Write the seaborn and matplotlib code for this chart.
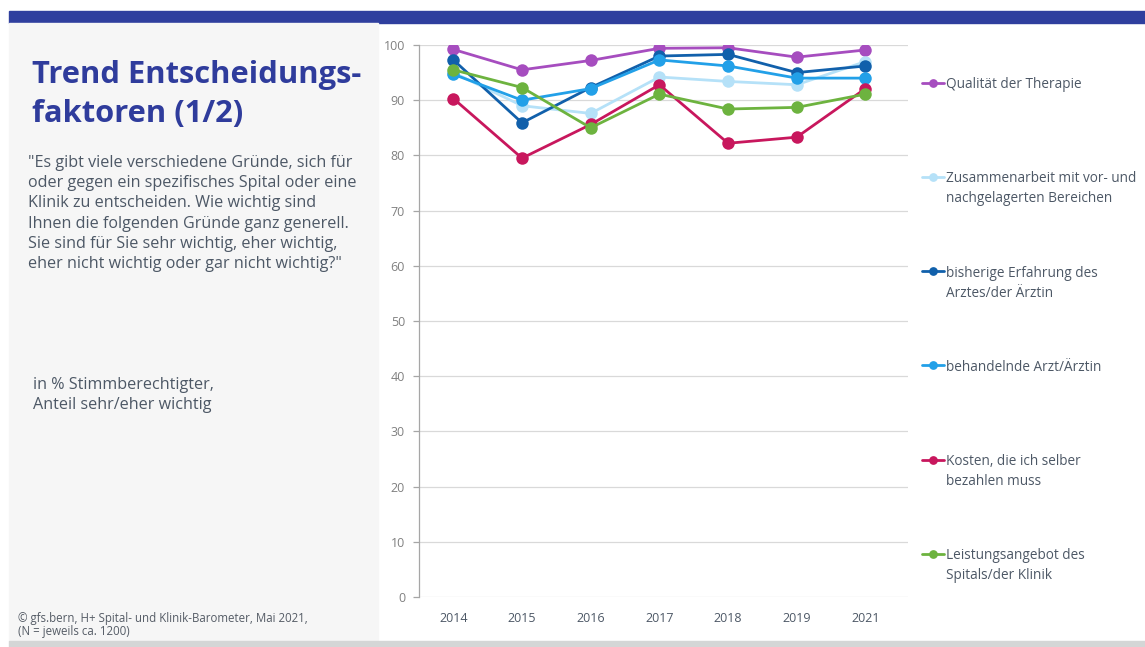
import pandas as pd
import numpy as np
import matplotlib.pyplot as plt
import seaborn as sns
from matplotlib.patches import Rectangle

# data
years = ["2014", "2015", "2016", "2017", "2018", "2019", "2021"]
qualitaet = [99.2, 95.5, 97.2, 99.4, 99.5, 97.8, 99.1]
zusammenarbeit = [95.0, 89.0, 87.6, 94.2, 93.4, 92.8, 97.0]
erfahrung = [97.3, 85.9, 92.3, 98.0, 98.3, 95.0, 96.2]
behandelnde = [94.7, 90.0, 92.1, 97.3, 96.2, 94.0, 94.0]
kosten = [90.3, 79.5, 85.6, 92.8, 82.2, 83.3, 92.1]
leistung = [95.5, 92.3, 85.0, 91.1, 88.4, 88.7, 91.1]

series_names = ["Qualität der Therapie",
                "Zusammenarbeit mit vor- und nachgelagerten Bereichen",
                "bisherige Erfahrung des Arztes/der Ärztin",
                "behandelnde Arzt/Ärztin",
                "Kosten, die ich selber bezahlen muss",
                "Leistungsangebot des Spitals/der Klinik"]
legend_labels = ["Qualität der Therapie\n",
                 "Zusammenarbeit mit vor- und\nnachgelagerten Bereichen",
                 "bisherige Erfahrung des\nArztes/der Ärztin",
                 "behandelnde Arzt/Ärztin\n",
                 "Kosten, die ich selber\nbezahlen muss",
                 "Leistungsangebot des\nSpitals/der Klinik"]
colors = ["#a64dbf", "#b5e1f8", "#1160ab", "#22a0e8", "#c8175d", "#6db33f"]

all_values = [qualitaet, zusammenarbeit, erfahrung, behandelnde, kosten, leistung]
rows = []
for name, vals in zip(series_names, all_values):
    for y, v in zip(years, vals):
        rows.append({"Jahr": y, "Wert": v, "Faktor": name})
df = pd.DataFrame(rows)

sns.set_style("white")
plt.rcParams["font.family"] = ["Open Sans", "DejaVu Sans"]

fig = plt.figure(figsize=(11.45, 6.47), dpi=100)
W, H = 1145, 647

# background decorations
fig.patches.append(Rectangle((9 / W, 1 - 23 / H), 1, 12 / H, transform=fig.transFigure,
                             color="#2f3f9e", zorder=0))
fig.patches.append(Rectangle((9 / W, 1 - 641 / H), 369 / W, 618 / H, transform=fig.transFigure,
                             color="#f6f6f6", zorder=0))
fig.patches.append(Rectangle((9 / W, 0), 1, 6 / H, transform=fig.transFigure,
                             color="#d4d6d6", zorder=0))

ax = fig.add_axes([419 / W, 1 - 597 / H, 489 / W, 552 / H])
ax.set_facecolor("none")
sns.lineplot(data=df, x="Jahr", y="Wert", hue="Faktor", hue_order=series_names,
             palette=colors, marker="o", markersize=9, markeredgewidth=0,
             linewidth=2, sort=False, ax=ax)
handles, _ = ax.get_legend_handles_labels()
ax.get_legend().remove()

ax.set_ylim(0, 100)
ax.set_xlim(-0.5, 6.62)
ax.set_yticks(range(0, 101, 10))
ax.yaxis.grid(True, color="#d9d9d9", linewidth=0.9)
ax.set_axisbelow(True)
ax.set_xlabel("")
ax.set_ylabel("")
for s in ["top", "right", "bottom"]:
    ax.spines[s].set_visible(False)
ax.spines["left"].set_color("#a6a6a6")
ax.spines["left"].set_linewidth(0.9)
ax.tick_params(axis="y", left=True, length=4, width=0.9, color="#a6a6a6",
               labelsize=9, labelcolor="#808080", pad=6)
ax.tick_params(axis="x", length=0, labelsize=9, labelcolor="#4d5866", pad=11)

leg = fig.legend(handles, legend_labels, loc="upper left",
                 bbox_to_anchor=(922 / W, 1 - 77 / H), frameon=False,
                 fontsize=9.8, labelcolor="#4d5866", handlelength=1.6,
                 handletextpad=0.2, handleheight=1.1, labelspacing=4.36,
                 markerscale=0.7, borderaxespad=0, borderpad=0)
for t in leg.get_texts():
    t.set_linespacing(1.45)
for col in leg._legend_handle_box.get_children():
    for row in col.get_children():
        row.align = "top"

fig.text(32 / W, 1 - 60 / H, "Trend Entscheidungs-\nfaktoren (1/2)", fontsize=22.2,
         fontweight="bold", color="#2f3c9c", va="top", ha="left", linespacing=1.38)
fig.text(28 / W, 1 - 155 / H,
         "\"Es gibt viele verschiedene Gründe, sich für\n"
         "oder gegen ein spezifisches Spital oder eine\n"
         "Klinik zu entscheiden. Wie wichtig sind\n"
         "Ihnen die folgenden Gründe ganz generell.\n"
         "Sie sind für Sie sehr wichtig, eher wichtig,\n"
         "eher nicht wichtig oder gar nicht wichtig?\"",
         fontsize=11.6, color="#4d5866", va="top", ha="left", linespacing=1.35)
fig.text(33 / W, 1 - 377 / H, "in % Stimmberechtigter,\nAnteil sehr/eher wichtig",
         fontsize=11.6, color="#4d5866", va="top", ha="left", linespacing=1.35)
fig.text(18 / W, 1 - 612 / H,
         "© gfs.bern, H+ Spital- und Klinik-Barometer, Mai 2021,\n(N = jeweils ca. 1200)",
         fontsize=8.3, color="#555c66", va="top", ha="left", linespacing=1.0)

fig.savefig("out.png", dpi=100)
